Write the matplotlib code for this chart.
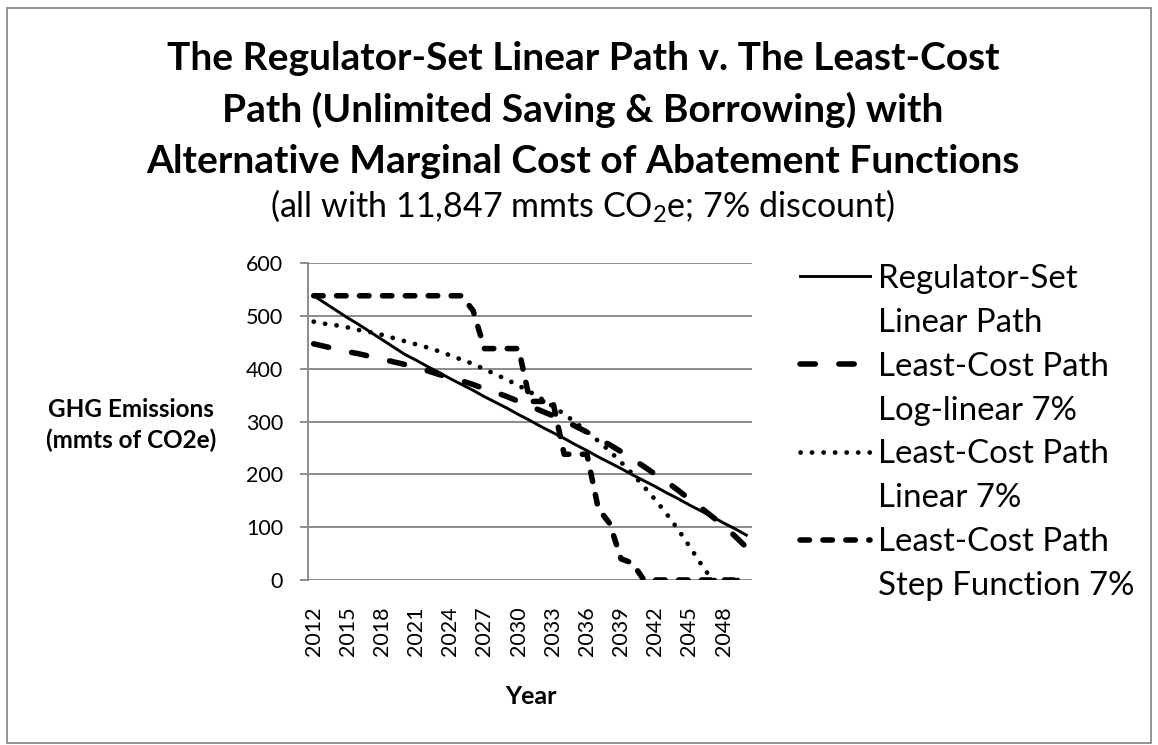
import matplotlib
matplotlib.use("Agg")
import matplotlib.pyplot as plt
from matplotlib.lines import Line2D
from matplotlib.patches import Rectangle

plt.rcParams['font.family'] = ['Lato', 'DejaVu Sans']
plt.rcParams['mathtext.fontset'] = 'custom'
plt.rcParams['mathtext.rm'] = 'Lato'
plt.rcParams['mathtext.default'] = 'regular'
plt.rcParams['lines.scale_dashes'] = False

# data (mmts CO2e), one value per year 2012-2050
years = list(range(2012, 2051))
regulator = [538, 524, 510, 496, 483, 469, 455, 441, 427, 416,
             404, 393, 381, 370, 359, 347, 336, 325, 313, 302,
             290, 279, 268, 256, 245, 233, 222, 211, 199, 188,
             177, 165, 154, 142, 131, 120, 108, 97, 85]
log_linear = [447, 442, 437, 432, 428, 423, 418, 413, 408, 402,
              396, 389, 383, 377, 370, 362, 355, 347, 338, 329,
              320, 311, 301, 291, 280, 267, 256, 243, 229, 215,
              200, 186, 170, 153, 137, 120, 103, 83, 62]
linear = [489, 485, 482, 478, 473, 469, 464, 458, 452, 446,
          440, 433, 425, 417, 409, 399, 389, 379, 368, 356,
          343, 329, 314, 298, 281, 263, 244, 223, 201, 177,
          152, 125, 96, 64, 31, 0, 0, 0, 0]
step = [538, 538, 538, 538, 538, 538, 538, 538, 538, 538,
        538, 538, 538, 538, 510, 438, 438, 438, 438, 338,
        338, 338, 238, 238, 238, 135, 107, 40, 32, 0,
        0, 0, 0, 0, 0, 0, 0, 0, 0]

W, H = 1158, 745
GRID = '#8c8c8c'

fig = plt.figure(figsize=(W / 100, H / 100), dpi=100)
ax = fig.add_axes([308 / W, 1 - 580 / H, (752 - 308) / W, (580 - 263) / H])

x = list(range(len(years)))
l1, = ax.plot(x, regulator, color='k', lw=2.1, solid_joinstyle='round')
l2, = ax.plot(x, log_linear, color='k', lw=4, dashes=(11, 17),
              dash_capstyle='round', dash_joinstyle='round')
l3, = ax.plot(x, linear, color='k', lw=3.4, dashes=(0.1, 8.2),
              dash_capstyle='round', dash_joinstyle='round')
l4, = ax.plot(x, step, color='k', lw=4, dashes=(6.8, 9.7),
              dash_capstyle='round', dash_joinstyle='round')

ax.set_xlim(-0.5, len(years) - 0.5)
ax.set_ylim(0, 600)
ax.set_yticks(range(0, 601, 100))
ax.set_xticks(x[::3])
ax.set_xticklabels([str(y) for y in years[::3]], rotation=90)
ax.yaxis.grid(True, color=GRID, lw=1.4)
ax.set_axisbelow(True)
for s in ['top', 'right', 'bottom']:
    ax.spines[s].set_visible(False)
ax.spines['left'].set_color(GRID)
ax.spines['left'].set_linewidth(1.4)
ax.tick_params(axis='y', length=6, width=1.4, color=GRID, pad=12, labelsize=15.5)
ax.tick_params(axis='x', length=0, pad=19, labelsize=15.5)

# titles
tfs = 28
fig.text(583 / W, 1 - 70 / H, 'The Regulator-Set Linear Path v. The Least-Cost',
         ha='center', va='baseline', fontsize=tfs, fontweight='bold')
fig.text(583 / W, 1 - 122 / H, 'Path (Unlimited Saving & Borrowing) with',
         ha='center', va='baseline', fontsize=tfs, fontweight='bold')
fig.text(583 / W, 1 - 173 / H, 'Alternative Marginal Cost of Abatement Functions',
         ha='center', va='baseline', fontsize=tfs, fontweight='bold')
fig.text(583 / W, 1 - 217 / H, '(all with 11,847 mmts CO$_2$e; 7% discount)',
         ha='center', va='baseline', fontsize=24.5)

fig.text(131 / W, 1 - 425 / H, 'GHG Emissions\n(mmts of CO2e)', ha='center',
         va='center', fontsize=17.5, fontweight='bold', linespacing=1.35)
fig.text(531 / W, 1 - 697 / H, 'Year', ha='center', va='center',
         fontsize=18, fontweight='bold')

# legend, second lines of labels get blank handles
blank = Line2D([], [], alpha=0)
handles = [l1, blank, l2, blank, l3, blank, l4, blank]
labels = ['Regulator-Set', 'Linear Path', 'Least-Cost Path', 'Log-linear 7%',
          'Least-Cost Path', 'Linear 7%', 'Least-Cost Path', 'Step Function 7%']
fs = 23.8
fig.legend(handles, labels, loc='center left',
           bbox_to_anchor=(800 / W, 1 - 432.5 / H), frameon=False,
           fontsize=fs, borderpad=0, borderaxespad=0,
           handlelength=70 / (fs * 100 / 72), handletextpad=8 / (fs * 100 / 72),
           labelspacing=0.42)

fig.patches.append(Rectangle((7 / W, 1 - 743 / H), (1151 - 7) / W, (743 - 8) / H,
                             transform=fig.transFigure, fill=False,
                             ec='#898989', lw=1.3))

fig.savefig('out.png', dpi=100)
